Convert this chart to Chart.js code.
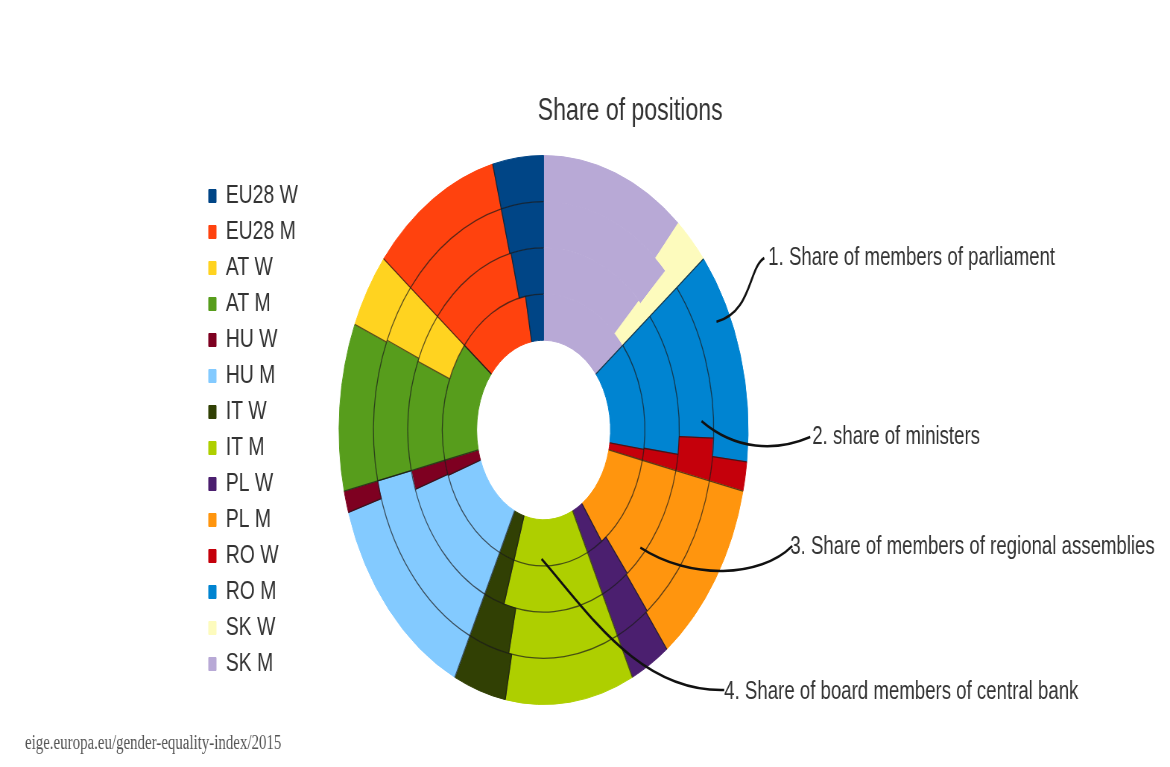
<!DOCTYPE html>
<html>
<head>
<meta charset="utf-8">
<script src="https://cdn.jsdelivr.net/npm/chart.js@4"></script>
<style>
  html, body { margin: 0; padding: 0; background: #fff; overflow: hidden; }
  #c { display: block; }
</style>
</head>
<body>
<!-- drawn wide, then squeezed horizontally like the original export -->
<canvas id="c" width="1570" height="767" style="width:1170px;height:767px"></canvas>
<script>
// --- data: share (%) of women (W) and men (M), legend order ---
const categories = ['EU28 W', 'EU28 M', 'AT W', 'AT M', 'HU W', 'HU M', 'IT W', 'IT M',
                    'PL W', 'PL M', 'RO W', 'RO M', 'SK W', 'SK M'];
const parliament  = [28, 72, 31, 69,  9,  91, 29, 71, 22, 78, 12, 88, 20, 80];
const ministers   = [28, 72, 30, 70,  0, 100, 27, 73, 23, 77, 21, 79, 11, 89];
const regional    = [27, 73, 32, 68, 12,  88, 17, 83, 24, 76, 10, 90, 13, 87];
const centralBank = [20, 80,  0, 100, 13, 87, 17, 83, 18, 82,  9, 91,  0, 100];
const colors = ['#004586', '#ff420e', '#ffd320', '#579d1c', '#7e0021', '#83caff', '#314004',
                '#aecf00', '#4b1f6f', '#ff950e', '#c5000b', '#0084d1', '#fdfbbd', '#b8a9d6'];
const ringNames = ['1. Share of members of parliament', '2. share of ministers',
                   '3. Share of members of regional assemblies', '4. Share of board members of central bank'];

const S = 0.745;             // horizontal squeeze of the page
const ux = x => x / S;       // page x -> canvas x

// segments run anticlockwise in the original, so feed them reversed
const rev = a => a.slice().reverse();
const labels = rev(categories);

const ringLines = {
    id: 'ringLines',
    afterDatasetsDraw(chart) {
        const ctx = chart.ctx;
        ctx.save();
        ctx.strokeStyle = 'rgba(25,25,25,0.7)';
        ctx.lineWidth = 1.3;
        chart.data.datasets.forEach((ds, d) => {
            chart.getDatasetMeta(d).data.forEach((arc, i) => {
                if (labels[i].startsWith('SK')) return;
                const p = arc.getProps(['x', 'y', 'startAngle', 'circumference', 'innerRadius', 'outerRadius']);
                if (d > 0 && p.circumference > 1e-4) {
                    ctx.beginPath();
                    ctx.arc(p.x, p.y, p.outerRadius, p.startAngle, p.startAngle + p.circumference);
                    ctx.stroke();
                }
                ctx.beginPath();
                ctx.moveTo(p.x + p.innerRadius * Math.cos(p.startAngle), p.y + p.innerRadius * Math.sin(p.startAngle));
                ctx.lineTo(p.x + p.outerRadius * Math.cos(p.startAngle), p.y + p.outerRadius * Math.sin(p.startAngle));
                ctx.stroke();
            });
        });
        ctx.restore();
    }
};

// callouts: ring, segment, where in the segment, text spot and curve handles (page coords)
const callouts = [
    { ring: 0, seg: 'RO M', fa: 0.30, fr: 0.60, tx: 768, ty: 258, c1: [752, 312], c2: [748, 268], end: [764, 258] },
    { ring: 1, seg: 'RO M', fa: 0.89, fr: 0.65, tx: 812, ty: 437, c1: [735, 450], c2: [775, 452], end: [810, 437] },
    { ring: 2, seg: 'PL M', fa: 0.75, fr: 0.85, tx: 790, ty: 547, c1: [690, 580], c2: [760, 578], end: [792, 546] },
    { ring: 3, seg: 'IT M', fa: 0.63, fr: 0.85, tx: 724, ty: 692, c1: [590, 615], c2: [640, 692], end: [724, 690] }
];

const annotate = {
    id: 'annotate',
    afterDraw(chart) {
        const ctx = chart.ctx;
        ctx.save();
        ctx.fillStyle = '#333';
        ctx.textBaseline = 'middle';

        ctx.font = '31px "Liberation Sans", Arial, sans-serif';
        ctx.textAlign = 'center';
        ctx.fillText('Share of positions', ux(630), 111);

        ctx.textAlign = 'left';
        ctx.font = '20px "Liberation Serif", "Times New Roman", serif';
        ctx.fillStyle = '#555';
        ctx.fillText('eige.europa.eu/gender-equality-index/2015', ux(25), 744);

        ctx.fillStyle = '#333';
        ctx.font = '25px "Liberation Sans", Arial, sans-serif';
        ctx.strokeStyle = '#111';
        ctx.lineWidth = 2.6;
        callouts.forEach((c, k) => {
            const arc = chart.getDatasetMeta(c.ring).data[labels.indexOf(c.seg)];
            const p = arc.getProps(['x', 'y', 'startAngle', 'endAngle', 'innerRadius', 'outerRadius']);
            const a = p.startAngle + c.fa * (p.endAngle - p.startAngle);
            const r = p.innerRadius + c.fr * (p.outerRadius - p.innerRadius);
            ctx.beginPath();
            ctx.moveTo(p.x + r * Math.cos(a), p.y + r * Math.sin(a));
            ctx.bezierCurveTo(ux(c.c1[0]), c.c1[1], ux(c.c2[0]), c.c2[1], ux(c.end[0]), c.end[1]);
            ctx.stroke();
            ctx.fillText(ringNames[k], ux(c.tx), c.ty);
        });
        ctx.restore();
    }
};

const ringData = [parliament, ministers, regional, centralBank];

new Chart(document.getElementById('c'), {
    type: 'doughnut',
    data: {
        labels: labels,
        datasets: ringData.map((vals, d) => ({
            label: ringNames[d],
            data: rev(vals),
            backgroundColor: rev(colors),
            borderColor: rev(colors),   // same colour: hides the seams between rings
            borderWidth: 1
        }))
    },
    options: {
        responsive: false,
        devicePixelRatio: 1,
        animation: false,
        cutout: '32.7%',
        layout: { padding: { left: 270, top: 155, bottom: 62, right: 521 } },
        plugins: {
            legend: {
                position: 'left',
                reverse: true,
                labels: {
                    color: '#333',
                    font: { family: '"Liberation Sans", Arial, sans-serif', size: 26 },
                    boxWidth: 10,
                    boxHeight: 13,
                    padding: 10
                }
            },
            title: { display: false },
            tooltip: { enabled: false }
        }
    },
    plugins: [ringLines, annotate]
});
</script>
</body>
</html>
